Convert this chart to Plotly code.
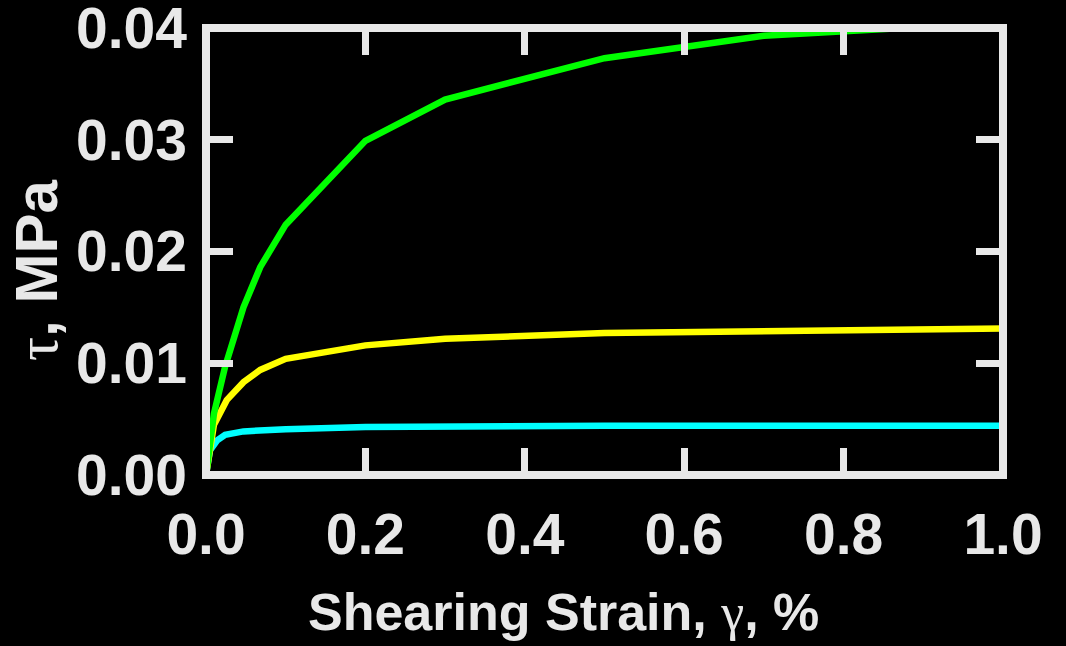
import plotly.graph_objects as go

# Data
strain_green = [0.0, 0.01, 0.024, 0.047, 0.068, 0.1, 0.2, 0.3, 0.5, 0.7, 1.0]
tau_green = [0.0, 0.0055, 0.0097, 0.0150, 0.0186, 0.0224, 0.0299, 0.0336, 0.0373, 0.0393, 0.0405]

strain_yellow = [0.0, 0.01, 0.026, 0.047, 0.068, 0.1, 0.2, 0.3, 0.5, 1.0]
tau_yellow = [0.0, 0.0045, 0.0067, 0.0083, 0.0094, 0.0104, 0.0116, 0.0122, 0.0127, 0.0131]

strain_cyan = [0.0, 0.005, 0.014, 0.024, 0.047, 0.1, 0.2, 0.5, 1.0]
tau_cyan = [0.0, 0.0022, 0.0031, 0.0036, 0.0039, 0.0041, 0.0043, 0.0044, 0.0044]

x_ticks = [0.0, 0.2, 0.4, 0.6, 0.8, 1.0]
x_ticklabels = ["0.0", "0.2", "0.4", "0.6", "0.8", "1.0"]
y_ticks = [0.0, 0.01, 0.02, 0.03, 0.04]
y_ticklabels = ["0.00", "0.01", "0.02", "0.03", "0.04"]

FG = "#e8e8e8"
FONT = "Liberation Sans, Arial, sans-serif"
SERIF = "Liberation Serif, DejaVu Serif, serif"

fig = go.Figure()
for xs, ys, col in [(strain_cyan, tau_cyan, "#00ffff"),
                    (strain_yellow, tau_yellow, "#ffff00"),
                    (strain_green, tau_green, "#00ff00")]:
    fig.add_trace(go.Scatter(x=xs, y=ys, mode="lines",
                             line=dict(color=col, width=6.5),
                             showlegend=False, hoverinfo="skip"))

tick_common = dict(ticks="inside", ticklen=27, tickwidth=7, tickcolor=FG,
                   mirror="ticks", showline=False, showgrid=False, zeroline=False,
                   ticklabeloverflow="allow", automargin=False,
                   tickfont=dict(family=FONT, size=57, color=FG, weight="bold"))

fig.update_xaxes(range=[-1e-7, 1 + 1e-7], tickvals=x_ticks, ticktext=x_ticklabels,
                 ticklabelstandoff=21, **tick_common)
fig.update_yaxes(range=[-1e-9, 0.04 + 1e-9], tickvals=y_ticks, ticktext=y_ticklabels,
                 ticklabelstandoff=18, **tick_common)

fig.add_shape(type="rect", xref="paper", yref="paper", x0=0, x1=1, y0=0, y1=1,
              line=dict(color=FG, width=8), layer="above")

fig.add_annotation(xref="paper", yref="paper", x=(563 - 206) / 797, y=-(612 - 475) / 447,
                   text=f"Shearing Strain, <span style='font-family:{SERIF};font-weight:normal'>γ</span>, %",
                   showarrow=False, xanchor="center", yanchor="middle",
                   font=dict(family=FONT, size=52, color=FG, weight="bold"))
fig.add_annotation(xref="paper", yref="paper", x=-(206 - 36) / 797, y=(475 - 271) / 447,
                   text=f"<span style='font-family:{SERIF};font-weight:normal'>τ</span>, MPa",
                   textangle=-90, showarrow=False, xanchor="center", yanchor="middle",
                   font=dict(family=FONT, size=60, color=FG, weight="bold"))

fig.update_layout(width=1066, height=646, paper_bgcolor="black", plot_bgcolor="black",
                  margin=dict(l=206, r=63, t=28, b=171, autoexpand=False))

fig.write_html("out.html")
